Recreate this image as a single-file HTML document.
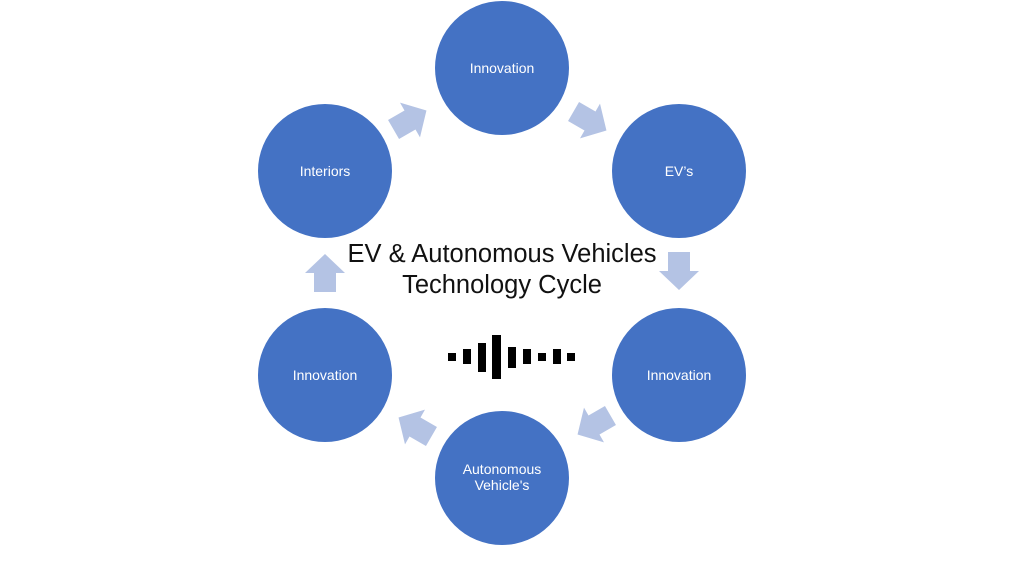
<!DOCTYPE html>
<html><head><style>
body{margin:0;width:1024px;height:576px;background:#fff;overflow:hidden}
svg text{font-family:"Liberation Sans",sans-serif}
</style></head><body>
<svg width="1024" height="576" viewBox="0 0 1024 576">
<defs><polygon id="ar" points="-19,-11 0,-11 0,-20 19,0 0,20 0,11 -19,11" fill="#b4c3e4"/></defs>
<g fill="#4472c4">
<circle cx="502" cy="68" r="67"/>
<circle cx="679" cy="171" r="67"/>
<circle cx="679" cy="375" r="67"/>
<circle cx="502" cy="478" r="67"/>
<circle cx="325" cy="375" r="67"/>
<circle cx="325" cy="171" r="67"/>
</g>
<use href="#ar" transform="translate(410,120) rotate(-30)"/>
<use href="#ar" transform="translate(590,121) rotate(30)"/>
<use href="#ar" transform="translate(679,271) rotate(90)"/>
<use href="#ar" transform="translate(594,425) rotate(150)"/>
<use href="#ar" transform="translate(415,427) rotate(210)"/>
<use href="#ar" transform="translate(325,273) rotate(-90)"/>
<g fill="#fff" font-size="14" text-anchor="middle">
<text x="502" y="73">Innovation</text>
<text x="679" y="176">EV’s</text>
<text x="679" y="380">Innovation</text>
<text x="502" y="474">Autonomous</text>
<text x="502" y="490">Vehicle's</text>
<text x="325" y="380">Innovation</text>
<text x="325" y="176">Interiors</text>
</g>
<g font-size="25.5" text-anchor="middle" fill="#111">
<text x="502" y="262">EV &amp; Autonomous Vehicles</text>
<text x="502" y="293">Technology Cycle</text>
</g>
<g fill="#000">
<rect x="448" y="353" width="8" height="8"/>
<rect x="463" y="349" width="8" height="15"/>
<rect x="478" y="343" width="8" height="29"/>
<rect x="492" y="335" width="9" height="44"/>
<rect x="508" y="347" width="8" height="21"/>
<rect x="523" y="349" width="8" height="15"/>
<rect x="538" y="353" width="8" height="8"/>
<rect x="553" y="349" width="8" height="15"/>
<rect x="567" y="353" width="8" height="8"/>
</g>
</svg>
</body></html>
